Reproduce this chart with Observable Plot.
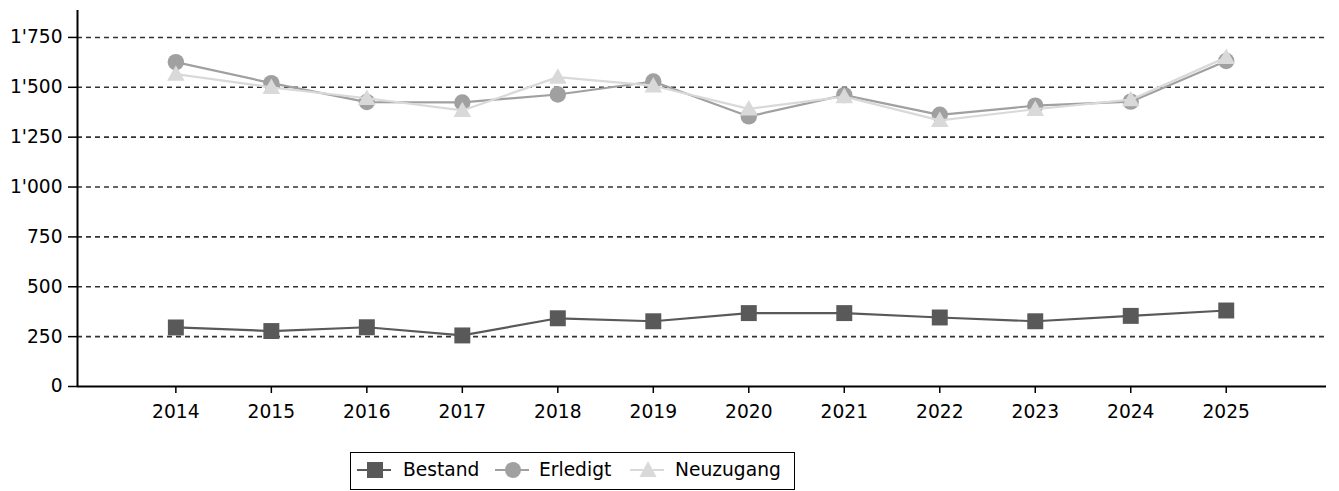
<!DOCTYPE html>
<html>
<head>
<meta charset="utf-8">
<script src="https://cdn.jsdelivr.net/npm/d3@7"></script>
<script src="https://cdn.jsdelivr.net/npm/@observablehq/plot@0.6"></script>
<style>
  html, body { margin: 0; padding: 0; background: #fff; }
  body { font-family: "DejaVu Sans", sans-serif; width: 1339px; height: 491px; overflow: hidden; }
  #legend { position: relative; margin-left: 350px; margin-top: 2px; width: 445px; height: 38px;
            box-sizing: border-box; border: 1.5px solid #000; font-size: 18.67px; color: #000; }
  #legend .sw { position: absolute; top: 0; }
  #legend .lb { position: absolute; top: 6px; line-height: 22px; white-space: nowrap; }
</style>
</head>
<body>
<div id="chart"></div>
<div id="legend"></div>
<script>
const years     = [2014, 2015, 2016, 2017, 2018, 2019, 2020, 2021, 2022, 2023, 2024, 2025];
const bestand   = [296, 278, 297, 256, 342, 327, 368, 368, 346, 327, 354, 381];
const erledigt  = [1626, 1521, 1426, 1424, 1464, 1529, 1354, 1461, 1362, 1408, 1428, 1632];
const neuzugang = [1566, 1500, 1445, 1384, 1551, 1508, 1392, 1453, 1334, 1390, 1438, 1650];
const seriesNames = ["Bestand", "Erledigt", "Neuzugang"];
const seriesColors = ["#595959", "#a0a0a0", "#d9d9d9"];
const yTicks = [0, 250, 500, 750, 1000, 1250, 1500, 1750];

const fmt = d3.formatLocale({decimal: ".", thousands: "'", grouping: [3], currency: ["", ""]}).format(",");

// custom upward triangle symbol
const triangleSym = {
  draw(ctx, size) {
    const r = Math.sqrt(size / Math.PI);
    ctx.moveTo(0, -r);
    ctx.lineTo(r, r * 0.76);
    ctx.lineTo(-r, r * 0.76);
    ctx.closePath();
  }
};

const rows = (vals, name) => years.map((y, i) => ({year: y, value: vals[i], series: name}));
const dB = rows(bestand, "Bestand");
const dE = rows(erledigt, "Erledigt");
const dN = rows(neuzugang, "Neuzugang");

const xDomain = [2012.97, 2026.05];

const chart = Plot.plot({
  width: 1339,
  height: 450,
  marginLeft: 77,
  marginRight: 13,
  marginTop: 10,
  marginBottom: 64,
  style: {fontFamily: "DejaVu Sans", fontSize: "18.67px", background: "#fff", color: "#000"},
  x: {type: "linear", domain: xDomain},
  y: {domain: [0, 1885]},
  marks: [
    Plot.ruleY(yTicks.filter(d => d > 0), {stroke: "#333", strokeWidth: 1.6, strokeDasharray: "5,4"}),
    Plot.axisY({ticks: yTicks, tickFormat: fmt, tickSize: 9, tickPadding: 6, fontSize: 18.67, stroke: "#000", strokeWidth: 1.5, label: null}),
    Plot.axisX({ticks: years, tickFormat: d => String(d), tickSize: 7, tickPadding: 11, fontSize: 18.67, stroke: "#000", strokeWidth: 1.5, label: null}),
    Plot.ruleX([xDomain[0]], {stroke: "#000", strokeWidth: 2}),
    Plot.ruleY([0], {stroke: "#000", strokeWidth: 2}),
    Plot.line(dB, {x: "year", y: "value", stroke: seriesColors[0], strokeWidth: 2.2}),
    Plot.dot(dB, {x: "year", y: "value", symbol: "square", r: 9.0, fill: seriesColors[0], stroke: "none"}),
    Plot.line(dE, {x: "year", y: "value", stroke: seriesColors[1], strokeWidth: 2.2}),
    Plot.dot(dE, {x: "year", y: "value", symbol: "circle", r: 8.2, fill: seriesColors[1], stroke: "none"}),
    Plot.line(dN, {x: "year", y: "value", stroke: seriesColors[2], strokeWidth: 2.2}),
    Plot.dot(dN, {x: "year", y: "value", symbol: triangleSym, r: 8.8, fill: seriesColors[2], stroke: "none"})
  ]
});
document.getElementById("chart").appendChild(chart);

// legend
const legend = document.getElementById("legend");
const swX = [6, 144, 279];
const lbX = [52, 188, 324];
const shapes = [
  c => `<rect x="10" y="9" width="16" height="16" fill="${c}"/>`,
  c => `<circle cx="18" cy="17" r="8" fill="${c}"/>`,
  c => `<path d="M18,8 L26.5,24 L9.5,24 Z" fill="${c}"/>`
];
seriesNames.forEach((name, i) => {
  const c = seriesColors[i];
  const sw = document.createElement("div");
  sw.className = "sw";
  sw.style.left = swX[i] + "px";
  sw.innerHTML = `<svg width="36" height="34"><line x1="0" x2="34" y1="17" y2="17" stroke="${c}" stroke-width="2"/>${shapes[i](c)}</svg>`;
  legend.appendChild(sw);
  const lb = document.createElement("div");
  lb.className = "lb";
  lb.style.left = lbX[i] + "px";
  lb.textContent = name;
  legend.appendChild(lb);
});
</script>
</body>
</html>
